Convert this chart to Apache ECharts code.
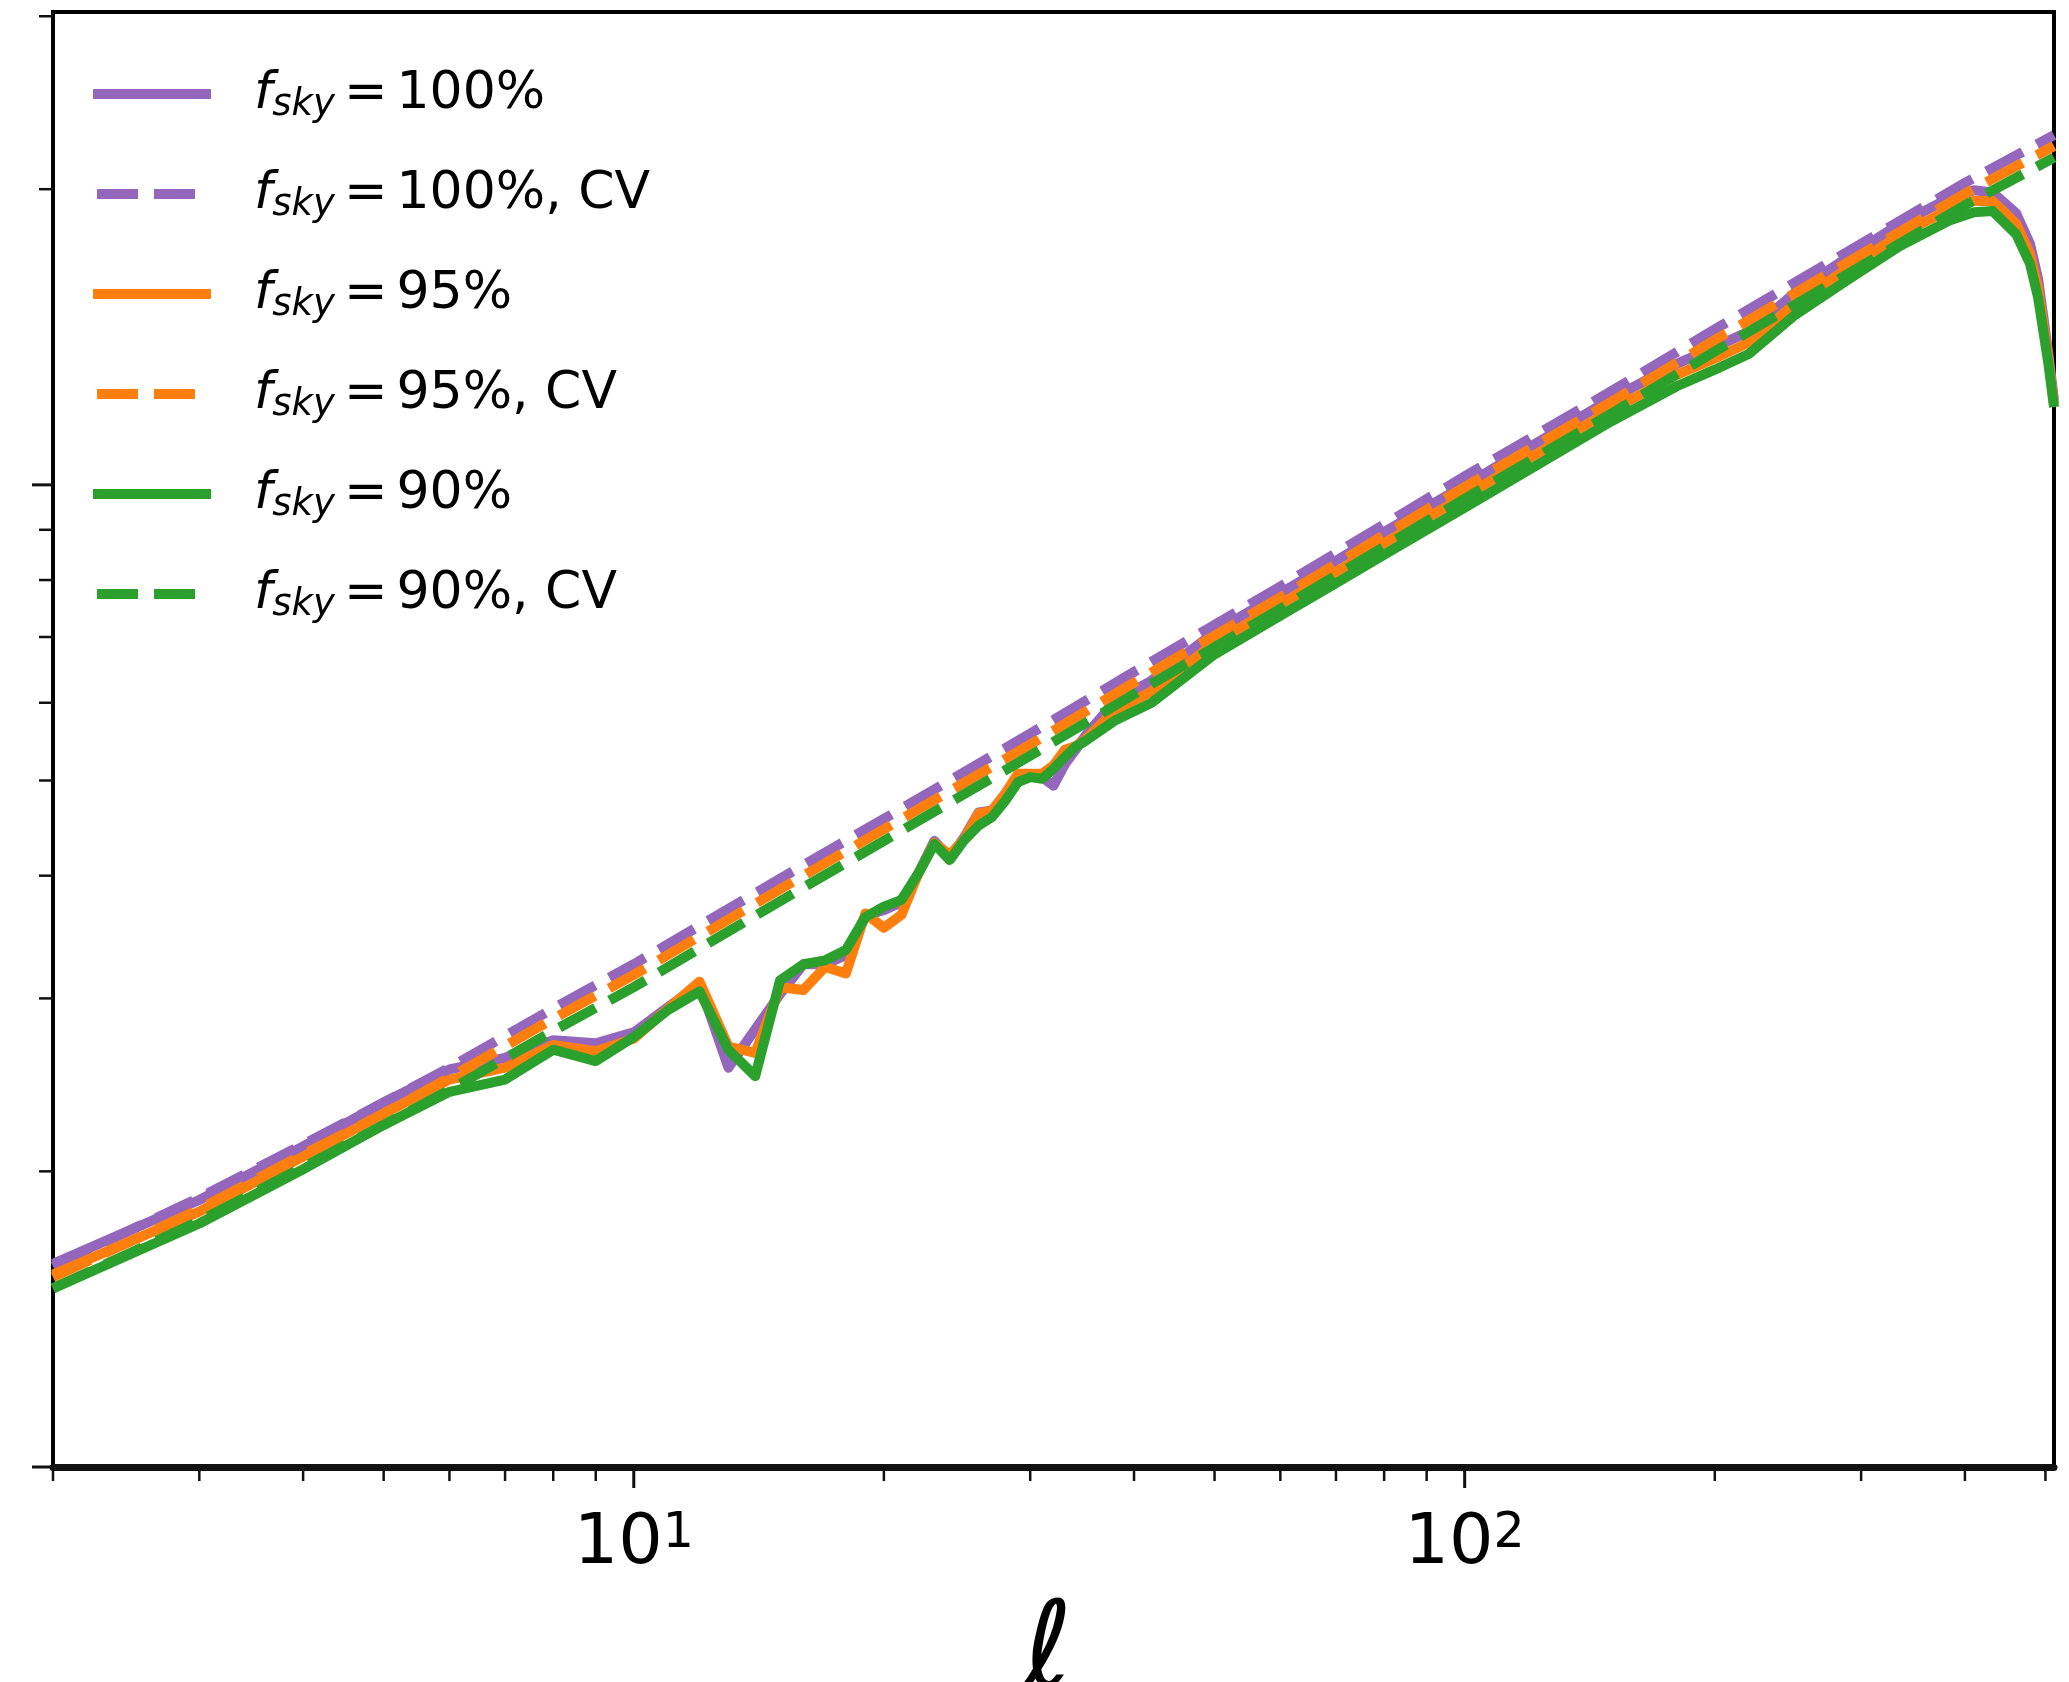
<!DOCTYPE html>
<html>
<head>
<meta charset="utf-8">
<script src="https://cdn.jsdelivr.net/npm/echarts@6/dist/echarts.min.js"></script>
<style>
  html, body { margin: 0; padding: 0; background: #fff; }
  #chart { width: 2069px; height: 1682px; }
</style>
</head>
<body>
<div id="chart"></div>
<script>
// Multipoles at which the cumulative curves are sampled
const ell = [2, 3, 4, 5, 6, 7, 8, 9, 10, 11, 12, 13, 14, 15, 16, 17, 18, 19, 20, 21, 22,
  23, 24, 25, 26, 27, 28, 29, 30, 31, 32, 33, 34, 35, 38, 42, 50, 60, 70, 80, 100,
  120, 150, 180, 200, 220, 250, 290, 334, 384, 410, 432, 461, 479, 490, 504, 512];

const sky100 = [1.61, 1.87, 2.12, 2.35, 2.54, 2.61, 2.72, 2.70, 2.77, 2.94, 3.10, 2.55, 2.79,
  3.03, 3.25, 3.25, 3.32, 3.64, 3.69, 3.76, 4.02, 4.34, 4.17, 4.38, 4.64, 4.66, 4.85, 5.06,
  5.06, 5.04, 4.94, 5.19, 5.37, 5.56, 6.03, 6.32, 7.08, 7.76, 8.37, 8.95, 9.99, 10.94, 12.23,
  13.28, 13.81, 14.33, 15.70, 17.07, 18.45, 19.60, 19.95, 19.85, 18.90, 17.60, 16.20, 13.60, 12.20];

const sky95 = [1.57, 1.82, 2.07, 2.29, 2.48, 2.55, 2.69, 2.65, 2.73, 2.93, 3.12, 2.68, 2.64,
  3.08, 3.06, 3.23, 3.18, 3.66, 3.54, 3.65, 4.02, 4.32, 4.20, 4.36, 4.63, 4.66, 4.85, 5.08,
  5.08, 5.08, 5.18, 5.37, 5.42, 5.51, 5.90, 6.16, 6.90, 7.56, 8.15, 8.72, 9.74, 10.66, 11.91,
  12.94, 13.45, 13.97, 15.30, 16.64, 17.97, 19.10, 19.46, 19.45, 18.45, 17.20, 15.85, 13.45, 12.10];

const sky90 = [1.52, 1.77, 2.01, 2.23, 2.41, 2.48, 2.66, 2.59, 2.74, 2.92, 3.05, 2.66, 2.50,
  3.13, 3.25, 3.28, 3.36, 3.63, 3.72, 3.78, 4.02, 4.31, 4.15, 4.35, 4.50, 4.59, 4.77, 4.98,
  5.04, 5.02, 5.14, 5.28, 5.41, 5.49, 5.76, 6.00, 6.72, 7.36, 7.94, 8.49, 9.48, 10.38, 11.60,
  12.60, 13.10, 13.60, 14.90, 16.20, 17.50, 18.60, 18.95, 19.00, 18.00, 16.80, 15.50, 13.30, 12.00];

// Cosmic-variance-limited curves
const ellCV = [2, 3, 4, 5, 6, 8, 10, 13, 16, 20, 30, 40, 60, 100, 150, 200, 300, 400, 512];
const cv100 = [1.60, 1.88, 2.13, 2.35, 2.55, 2.93, 3.25, 3.70, 4.10, 4.57, 5.58, 6.45, 7.88,
  10.20, 12.45, 14.40, 17.60, 20.30, 22.70];
const cv95 = [1.56, 1.83, 2.08, 2.29, 2.49, 2.86, 3.17, 3.61, 4.00, 4.46, 5.44, 6.29, 7.68,
  9.95, 12.14, 14.04, 17.16, 19.79, 22.13];
const cv90 = [1.52, 1.78, 2.02, 2.23, 2.42, 2.78, 3.08, 3.51, 3.89, 4.34, 5.30, 6.12, 7.48,
  9.68, 11.81, 13.67, 16.70, 19.26, 21.54];

// Axis ranges and tick positions
const X_MIN = 2, X_MAX = 512;
const Y_MIN = 1, Y_MAX = 30.3;
const xMajorTicks = [10, 100];
const xMinorTicks = [2, 3, 4, 5, 6, 7, 8, 9, 20, 30, 40, 50, 60, 70, 80, 90, 200, 300, 400, 500];
const yMajorTicks = [1, 10];
const yMinorTicks = [2, 3, 4, 5, 6, 7, 8, 9, 20, 30];

const FONT = '"DejaVu Sans", "Noto Sans", sans-serif';
const PURPLE = '#9467bd', ORANGE = '#ff7f0e', GREEN = '#2ca02c';
const DASH = [41, 16];

const pairs = (xs, ys) => xs.map((x, i) => [x, ys[i]]);

function lineSeries(name, xs, ys, color, dashed) {
  return {
    name: name,
    type: 'line',
    data: pairs(xs, ys),
    symbol: 'none',
    showSymbol: false,
    smooth: false,
    silent: true,
    lineStyle: { color: color, width: 10, type: dashed ? DASH : 'solid', join: 'round', cap: 'butt' },
    itemStyle: { color: color },
    emphasis: { disabled: true },
    z: 3
  };
}

// Tick marks drawn through the axis scales: [x, isMajor, y]
function tickSeries(axis) {
  const data = axis === 'x'
    ? xMajorTicks.map(v => [v, 1, Y_MIN]).concat(xMinorTicks.map(v => [v, 0, Y_MIN]))
    : yMajorTicks.map(v => [X_MIN, 1, v]).concat(yMinorTicks.map(v => [X_MIN, 0, v]));
  return {
    type: 'custom',
    silent: true,
    clip: false,
    z: 5,
    encode: { x: 0, y: 2 },
    data: data,
    renderItem: function (params, api) {
      const p = api.coord([api.value(0), api.value(2)]);
      const major = api.value(1) === 1;
      const len = major ? 21 : 14;
      const shape = axis === 'x'
        ? { x1: p[0], y1: p[1], x2: p[0], y2: p[1] + len }
        : { x1: p[0], y1: p[1], x2: p[0] - len, y2: p[1] };
      return { type: 'line', shape: shape, style: { stroke: '#111', lineWidth: major ? 3 : 2.5 } };
    }
  };
}

const chart = echarts.init(document.getElementById('chart'), null, { renderer: 'canvas' });

chart.setOption({
  animation: false,
  backgroundColor: '#ffffff',
  grid: {
    left: 53, right: 15, top: 12, bottom: 215,
    show: true, borderColor: '#000', borderWidth: 4, backgroundColor: 'transparent',
    containLabel: false, outerBoundsMode: 'none'
  },
  xAxis: {
    type: 'log', logBase: 10, min: X_MIN, max: X_MAX,
    axisLine: { show: true, lineStyle: { color: '#111', width: 7 } },
    axisTick: { show: false },
    splitLine: { show: false },
    minorTick: { show: false },
    axisLabel: {
      margin: 43,
      showMinLabel: true, showMaxLabel: true,
      formatter: function (v) {
        const e = Math.log10(v);
        if (Math.abs(e - Math.round(e)) > 1e-6) return '';
        return '{b|10}{e|' + Math.round(e) + '}';
      },
      rich: {
        b: { fontFamily: FONT, fontSize: 70, lineHeight: 70, color: '#000' },
        e: { fontFamily: FONT, fontSize: 49, lineHeight: 30, verticalAlign: 'top', color: '#000' }
      }
    }
  },
  yAxis: {
    type: 'log', logBase: 10, min: Y_MIN, max: Y_MAX,
    axisLine: { show: false },
    axisTick: { show: false },
    axisLabel: { show: false },
    splitLine: { show: false },
    minorTick: { show: false }
  },
  legend: {
    orient: 'vertical',
    left: 88, top: 68,
    padding: 0,
    itemWidth: 118, itemHeight: 14, itemGap: 44,
    selectedMode: false,
    itemStyle: { opacity: 0 },
    lineStyle: { width: 10, dashOffset: 53 },
    data: ['f_sky = 100%', 'f_sky = 100%, CV', 'f_sky = 95%', 'f_sky = 95%, CV', 'f_sky = 90%', 'f_sky = 90%, CV'],
    formatter: function (name) {
      const rest = name.replace('f_sky = ', '');
      return '{f|f}{s|sky}{e|=}{r|' + rest + '}';
    },
    textStyle: {
      color: '#000',
      rich: {
        f: { fontFamily: FONT, fontStyle: 'italic', fontSize: 52, lineHeight: 60, padding: [0, 0, 0, 38], color: '#000' },
        s: { fontFamily: FONT, fontStyle: 'italic', fontSize: 37, lineHeight: 36, verticalAlign: 'bottom', color: '#000' },
        e: { fontFamily: FONT, fontSize: 52, lineHeight: 60, padding: [0, 9, 0, 9], color: '#000' },
        r: { fontFamily: FONT, fontSize: 52, lineHeight: 60, color: '#000' }
      }
    }
  },
  graphic: [{
    type: 'text',
    x: 1048, y: 1595,
    silent: true,
    style: { text: 'ℓ', fontFamily: FONT, fontSize: 118, fill: '#000', align: 'center', verticalAlign: 'top' }
  }],
  series: [
    lineSeries('f_sky = 100%', ell, sky100, PURPLE, false),
    lineSeries('f_sky = 100%, CV', ellCV, cv100, PURPLE, true),
    lineSeries('f_sky = 95%', ell, sky95, ORANGE, false),
    lineSeries('f_sky = 95%, CV', ellCV, cv95, ORANGE, true),
    lineSeries('f_sky = 90%', ell, sky90, GREEN, false),
    lineSeries('f_sky = 90%, CV', ellCV, cv90, GREEN, true),
    tickSeries('x'),
    tickSeries('y')
  ]
});
</script>
</body>
</html>
